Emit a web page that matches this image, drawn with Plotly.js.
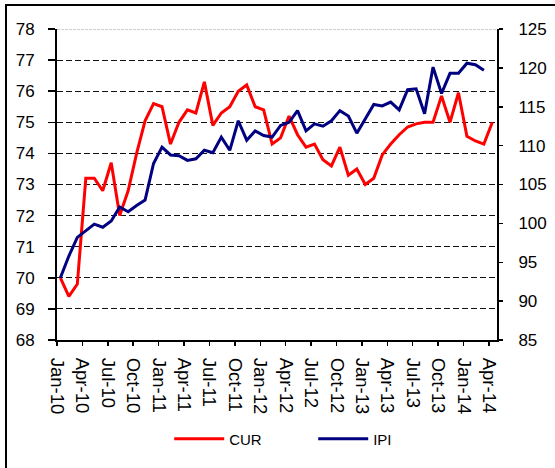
<!DOCTYPE html>
<html>
<head>
<meta charset="utf-8">
<script src="https://cdn.plot.ly/plotly-3.0.1.min.js"></script>
<style>
  html, body { margin: 0; padding: 0; background: #fff; overflow: hidden; }
  #wrap { position: relative; width: 555px; height: 468px; }
  #chart { position: absolute; left: 0; top: 0; width: 555px; height: 468px; }
  #frame { position: absolute; left: 5px; top: 4px; width: 600px; height: 500px;
           border-left: 2px solid #000; border-top: 2px solid #000; pointer-events: none; z-index: 10; }
</style>
</head>
<body>
<div id="wrap">
  <div id="chart"></div>
  <div id="frame"></div>
</div>
<script>
// Monthly categories
const months = [
  "Jan-10","Feb-10","Mar-10","Apr-10","May-10","Jun-10","Jul-10","Aug-10","Sep-10","Oct-10","Nov-10","Dec-10",
  "Jan-11","Feb-11","Mar-11","Apr-11","May-11","Jun-11","Jul-11","Aug-11","Sep-11","Oct-11","Nov-11","Dec-11",
  "Jan-12","Feb-12","Mar-12","Apr-12","May-12","Jun-12","Jul-12","Aug-12","Sep-12","Oct-12","Nov-12","Dec-12",
  "Jan-13","Feb-13","Mar-13","Apr-13","May-13","Jun-13","Jul-13","Aug-13","Sep-13","Oct-13","Nov-13","Dec-13",
  "Jan-14","Feb-14","Mar-14","Apr-14"
];

// CUR (left axis)
const cur = [
  70.0, 69.4, 69.8, 73.2, 73.2, 72.8, 73.7, 72.0, 72.8, 74.0, 75.05, 75.6,
  75.5, 74.3, 75.0, 75.4, 75.3, 76.3, 74.9, 75.3, 75.5, 76.0, 76.2, 75.5,
  75.4, 74.3, 74.5, 75.2, 74.6, 74.2, 74.3, 73.8, 73.6, 74.2, 73.3, 73.5,
  73.0, 73.2, 73.95, 74.3, 74.6, 74.85, 74.95, 75.0, 75.0, 75.85, 75.0, 75.95,
  74.55, 74.4, 74.3, 75.0
];

// IPI (right axis)
const ipi = [
  93.0, 95.8, 98.2, 99.0, 99.9, 99.5, 100.3, 102.1, 101.5, 102.3, 103.0, 107.7,
  109.8, 108.8, 108.7, 108.1, 108.3, 109.4, 109.1, 111.1, 109.4, 113.2, 110.7, 111.9,
  111.3, 111.1, 112.6, 113.0, 114.5, 111.9, 112.8, 112.5, 113.2, 114.5, 113.8, 111.6,
  113.4, 115.3, 115.1, 115.6, 114.6, 117.2, 117.3, 114.1, 120.1, 116.7, 119.3, 119.3,
  120.6, 120.4, 119.7
];

const seriesNames = ["CUR", "IPI"];

const idx = months.map((_, i) => i);
const tickIdx = idx.filter(i => i % 3 === 0);
const tickvals = tickIdx.map(i => i - 0.4);
const ticktext = tickIdx.map(i => months[i]);

const FONT = "Liberation Sans, Arial, sans-serif";
const xr = [-0.4, 51.55];

const data = [
  {
    x: idx.slice(0, cur.length), y: cur, name: seriesNames[0],
    type: "scatter", mode: "lines", yaxis: "y",
    line: { color: "#ff0000", width: 3 },
    text: months, hoverinfo: "text+y"
  },
  {
    x: idx.slice(0, ipi.length), y: ipi, name: seriesNames[1],
    type: "scatter", mode: "lines", yaxis: "y2",
    line: { color: "#000080", width: 3 },
    text: months, hoverinfo: "text+y"
  }
];

const layout = {
  width: 555, height: 468,
  margin: { l: 57, r: 58, t: 29, b: 125 },
  paper_bgcolor: "#fff", plot_bgcolor: "#fff",
  font: { family: FONT, color: "#000" },
  showlegend: true,
  legend: {
    orientation: "h", x: 0.255, xanchor: "left", y: -0.318, yanchor: "middle",
    font: { family: FONT, size: 15, color: "#000" },
    itemwidth: 50, entrywidth: 79, bgcolor: "rgba(0,0,0,0)"
  },
  xaxis: {
    type: "linear", range: xr, fixedrange: true,
    showgrid: false, zeroline: false,
    showline: true, linecolor: "#000", linewidth: 2,
    ticks: "outside", ticklen: 4, tickwidth: 1.5, tickcolor: "#000",
    tickmode: "array", tickvals: tickvals, ticktext: ticktext,
    tickangle: 90, tickfont: { family: FONT, size: 18.5, color: "#000" },
    ticklabelstandoff: 8
  },
  xaxis2: {
    type: "linear", range: xr, overlaying: "x", anchor: "y", side: "bottom",
    showgrid: false, zeroline: false, showline: false,
    ticks: "inside", ticklen: 4, tickwidth: 1.5, tickcolor: "#000",
    tickmode: "array", tickvals: tickvals, showticklabels: false
  },
  yaxis: {
    range: [68, 78], dtick: 1, tick0: 68, fixedrange: true,
    showgrid: true, gridcolor: "#111", gridwidth: 1, griddash: "6px,3px",
    zeroline: false,
    showline: true, linecolor: "#000", linewidth: 2,
    ticks: "outside", ticklen: 7, tickwidth: 1.5, tickcolor: "#000",
    tickfont: { family: FONT, size: 17, color: "#000" },
    ticklabelstandoff: 10
  },
  yaxis2: {
    range: [85, 125], dtick: 5, tick0: 85, overlaying: "y", side: "right", anchor: "x",
    fixedrange: true, showgrid: false, zeroline: false,
    showline: true, linecolor: "#000", linewidth: 2,
    ticks: "outside", ticklen: 4, tickwidth: 1.5, tickcolor: "#000",
    tickfont: { family: FONT, size: 17, color: "#000" },
    ticklabelstandoff: 12
  },
  yaxis3: {
    range: [85, 125], dtick: 5, tick0: 85, overlaying: "y", side: "right", anchor: "x",
    showgrid: false, zeroline: false, showline: false,
    ticks: "inside", ticklen: 4, tickwidth: 1.5, tickcolor: "#000",
    showticklabels: false
  },
  shapes: [
    { type: "line", xref: "paper", yref: "y", x0: 0, x1: 1, y0: 78, y1: 78,
      line: { color: "#fff", width: 3 }, layer: "above" },
    { type: "line", xref: "paper", yref: "y", x0: 0, x1: 1, y0: 78, y1: 78,
      line: { color: "#999", width: 1.2, dash: "3px,1px" }, layer: "above" }
  ]
};

Plotly.newPlot("chart", data, layout, { displayModeBar: false, staticPlot: true });
</script>
</body>
</html>
